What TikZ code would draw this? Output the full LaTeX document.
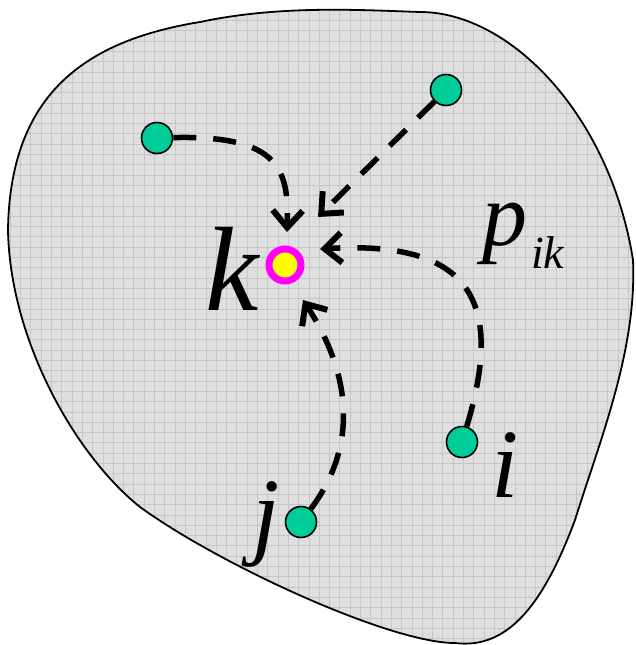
\documentclass[tikz,border=0pt]{standalone}
\usepackage{fontspec}
\setmainfont{Liberation Serif}
\usetikzlibrary{arrows.meta}
\definecolor{blobgray}{HTML}{DFDFDF}
\definecolor{gridgray}{HTML}{C6C6C6}
\definecolor{sitegreen}{HTML}{00CC99}
\definecolor{ringmagenta}{HTML}{FF00FF}
\definecolor{coreyellow}{HTML}{FFFF00}
\pgfdeclarelayer{blob}
\pgfdeclarelayer{links}
\pgfsetlayers{blob,links,main}

\begin{document}
\begin{tikzpicture}[
  x=1pt, y=-1pt,
  >={Straight Barb[length=17pt,width=30pt,line width=6pt]},
  region/.style={draw, line width=1.8pt},
  gridline/.style={gridgray, line width=0.9pt},
  site/.style={circle, draw, line width=1.6pt, fill=sitegreen, minimum size=31pt, inner sep=0pt},
  target/.style={circle, draw=ringmagenta, line width=7pt, fill=coreyellow, minimum size=32pt, inner sep=0pt},
  flow/.style={->, line width=5.5pt, dash pattern=on 23pt off 17pt},
  sym/.style={inner sep=0pt, anchor=base west}
]
\useasboundingbox (0,0) rectangle (635,645);

\def\blobpath{(420,12) .. controls (510,12) and (610,115) .. (633,260)
  .. controls (637,350) and (600,440) .. (575,520)
  .. controls (545,600) and (510,650) .. (455,643)
  .. controls (390,643) and (220,565) .. (140,507)
  .. controls (75,455) and (10,340) .. (8,230)
  .. controls (10,90) and (90,40) .. (200,22)
  .. controls (280,5) and (360,10) .. cycle}

\begin{pgfonlayer}{blob}
  \fill[blobgray] \blobpath;
  \begin{scope}
    \clip \blobpath;
    \draw[gridline, step=10.3pt] (0,0) grid (635,645);
  \end{scope}
  \draw[region] \blobpath;
\end{pgfonlayer}

% sites and the target
\node[site] (siteA) at (157,138) {};
\node[site] (siteB) at (446,90) {};
\node[site] (siteI) at (462,442) {};
\node[site] (siteJ) at (301,522) {};
\node[target] (k) at (285,265) {};

\coordinate (tipA) at (287,232);
\coordinate (tipB) at (318,217);
\coordinate (tipC) at (320,249);
\coordinate (tipD) at (303,300);

% labels
\node[sym, font=\fontsize{120}{120}\selectfont\itshape] (klabel) at (205,310) {k};
\node[sym, font=\fontsize{90}{90}\selectfont\itshape] (plabel) at (482,245)
  {p\kern4pt\raisebox{-23pt}{\fontsize{46}{46}\selectfont ik}};
\node[sym, font=\fontsize{98}{98}\selectfont\itshape] (ilabel) at (491,497) {i};
\node[sym, font=\fontsize{98}{98}\selectfont\itshape] (jlabel) at (252,546) {j};

\begin{pgfonlayer}{links}
  \draw[flow] (siteA) .. controls (280,135) and (289,170) .. (tipA);
  \draw[flow] (siteB) -- (tipB);
  \draw[flow] (siteI) .. controls (505,300) and (470,240) .. (tipC);
  \draw[flow] (siteJ) .. controls (355,450) and (355,380) .. (tipD);
\end{pgfonlayer}

\end{tikzpicture}
\end{document}
